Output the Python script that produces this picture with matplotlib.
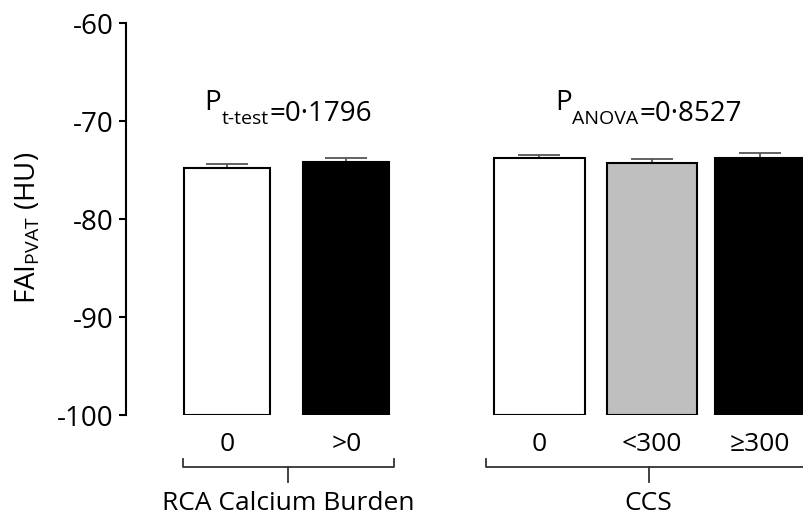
import matplotlib
matplotlib.use('Agg')
import matplotlib.pyplot as plt
from matplotlib.transforms import blended_transform_factory

plt.rcParams['font.family'] = ['Open Sans', 'DejaVu Sans']
plt.rcParams['axes.unicode_minus'] = False

# datos
categorias = ['0', '>0', '0', '<300', '≥300']
medias = [-74.77, -74.22, -73.81, -74.29, -73.81]
errores = [0.41, 0.41, 0.34, 0.41, 0.54]
colores = ['white', 'black', 'white', '#bfbfbf', 'black']
grupos = ['RCA Calcium Burden', 'CCS']
p_textos = [('P', 't-test', '=0·1796'), ('P', 'ANOVA', '=0·8527')]

# posiciones de las barras
posiciones = [0, 1.08, 2.83, 3.85, 4.83]
anchos = [0.78, 0.78, 0.82, 0.82, 0.82]
base = -100

fig = plt.figure(figsize=(8.04, 5.19), dpi=100)
ax = fig.add_axes([126 / 804, (519 - 415) / 519, 1 - 126 / 804, (415 - 23) / 519])

alturas = [m - base for m in medias]
ax.bar(posiciones, alturas, width=anchos, bottom=base, color=colores,
       edgecolor='black', linewidth=1.5, zorder=2)
ax.errorbar(posiciones, medias, yerr=[[0] * 5, errores], fmt='none',
            ecolor='#555555', elinewidth=1.3, capsize=15, capthick=1.3, zorder=1)

ax.set_ylim(-100, -60)
ax.set_xlim(-0.918, 5.23)
ax.set_yticks([-100, -90, -80, -70, -60])
ax.set_xticks(posiciones)
ax.set_xticklabels(categorias)
ax.tick_params(axis='y', labelsize=20, width=1.5, length=5, direction='out', pad=4)
ax.tick_params(axis='x', labelsize=19, length=0, pad=12)
for s in ['top', 'right', 'bottom']:
    ax.spines[s].set_visible(False)
ax.spines['left'].set_linewidth(1.5)

ax.set_ylabel('FAI$_{\\mathregular{PVAT}}$ (HU)', fontsize=20)
ax.yaxis.set_label_coords(-84 / 678, 0.477)

# textos de P con subindice
centros_p = [(0.555, -68.9), (3.82, -68.9)]
fig.canvas.draw()
r = fig.canvas.get_renderer()
for (px, py), (p, sub, resto) in zip(centros_p, p_textos):
    x0, y0 = ax.transData.transform((px, py))
    t1 = fig.text(x0 / 804, y0 / 519, p, fontsize=20, va='baseline', ha='left')
    t2 = ax.annotate(sub, xy=(1, 0), xycoords=t1, xytext=(0.5, -5),
                     textcoords='offset points', fontsize=14, va='baseline', ha='left')
    t3 = ax.annotate(resto, xy=(1, 0), xycoords=t2, xytext=(0.5, 5),
                     textcoords='offset points', fontsize=20, va='baseline', ha='left')
    fig.canvas.draw()
    w = t3.get_window_extent(r).x1 - t1.get_window_extent(r).x0
    t1.set_position(((x0 - w / 2) / 804, y0 / 519))

# llaves de grupo
trans = blended_transform_factory(ax.transData, fig.transFigure)
llaves = [(-0.4, 1.51, 0.555), (2.345, 5.29, 3.82)]
y_h = (519 - 467) / 519
y_e = (519 - 459) / 519
y_c = (519 - 482) / 519
for (x1, x2, xc), nombre in zip(llaves, grupos):
    ax.plot([x1, x1, x2, x2], [y_e, y_h, y_h, y_e], color='#333333', lw=1.3,
            transform=trans, clip_on=False)
    ax.plot([xc, xc], [y_h, y_c], color='#333333', lw=1.3,
            transform=trans, clip_on=False)
    ax.text(xc, (519 - 503) / 519, nombre, fontsize=19, ha='center', va='center',
            transform=trans)

fig.savefig('out.png', dpi=100)
